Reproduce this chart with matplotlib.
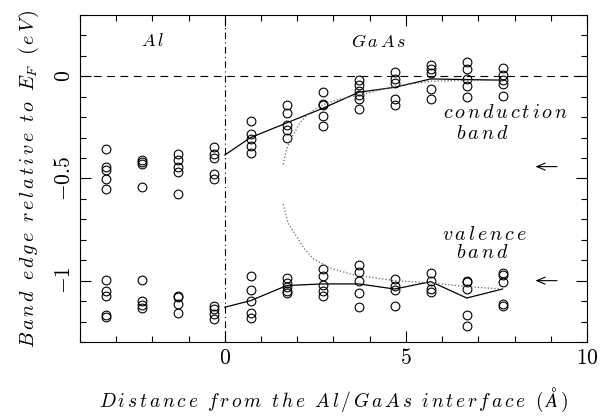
import matplotlib
matplotlib.use("Agg")
import matplotlib.pyplot as plt
from matplotlib.ticker import MultipleLocator
import numpy as np

plt.rcParams['mathtext.fontset'] = 'cm'
plt.rcParams['font.family'] = ['DejaVu Serif']

# layer positions (Angstrom)
layer_x = [-3.27, -2.28, -1.29, -0.30, 0.71, 1.71, 2.70, 3.70, 4.69, 5.69, 6.68, 7.67]

# conduction band edge of each atom in a layer
cond_pts = [
    [-0.355, -0.442, -0.459, -0.501, -0.554],
    [-0.410, -0.421, -0.431, -0.540],
    [-0.382, -0.411, -0.442, -0.467, -0.577],
    [-0.345, -0.379, -0.398, -0.480, -0.501],
    [-0.218, -0.281, -0.309, -0.341, -0.377],
    [-0.141, -0.182, -0.236, -0.263, -0.304],
    [-0.075, -0.135, -0.140, -0.192, -0.244],
    [-0.018, -0.044, -0.073, -0.090, -0.109, -0.159],
    [0.021, -0.013, -0.033, -0.109, -0.141],
    [0.054, 0.036, 0.018, -0.062, -0.111],
    [0.068, 0.038, -0.011, -0.049, -0.102],
    [0.039, 0.008, -0.016, -0.039, -0.096],
]

# valence band edge of each atom in a layer
val_pts = [
    [-0.997, -1.050, -1.073, -1.166, -1.180],
    [-0.997, -1.102, -1.117, -1.133],
    [-1.073, -1.081, -1.112, -1.159],
    [-1.123, -1.138, -1.163, -1.187],
    [-0.979, -1.044, -1.098, -1.156, -1.182],
    [-0.985, -1.011, -1.029, -1.049, -1.062],
    [-0.945, -0.976, -1.020, -1.052, -1.076],
    [-0.924, -0.959, -1.000, -1.062, -1.127],
    [-0.992, -1.028, -1.044, -1.122],
    [-0.961, -1.003, -1.041, -1.057],
    [-1.000, -1.008, -1.041, -1.168, -1.220],
    [-0.962, -0.972, -1.008, -1.114, -1.125],
]

# layer averaged band edges (solid)
avg_x = [0.0, 0.71, 1.71, 2.70, 3.70, 4.69, 5.69, 6.68, 7.67]
cond_avg = [-0.385, -0.300, -0.228, -0.157, -0.078, -0.054, -0.013, -0.016, -0.019]
val_avg = [-1.130, -1.098, -1.024, -1.016, -1.016, -1.041, -1.005, -1.085, -1.041]

# model curves (dotted)
cond_fit_x = [1.61, 1.66, 1.72, 1.80, 1.90, 2.05, 2.27, 2.50, 2.73, 3.10, 3.46, 3.70, 4.69, 5.69, 6.68, 7.66]
cond_fit = [-0.431, -0.390, -0.350, -0.315, -0.285, -0.235, -0.187, -0.160, -0.138, -0.115, -0.100, -0.093, -0.049, -0.024, -0.020, -0.020]
val_fit_x = [1.61, 1.75, 2.00, 2.20, 2.45, 2.91, 3.46, 3.71, 4.70, 5.69, 6.68, 7.66]
val_fit = [-0.626, -0.720, -0.789, -0.845, -0.894, -0.938, -0.967, -0.976, -1.000, -1.011, -1.029, -1.041]


def sp(word):
    # the original is typeset with loose letter spacing
    return r'\,'.join(word)


def mt(*words):
    return '$' + r'\ \;'.join(words) + '$'


fig = plt.figure(figsize=(6.13, 4.16), dpi=100)
ax = fig.add_axes([0.1305, 0.178, 0.827, 0.786])

for x, ys in zip(layer_x, cond_pts):
    ax.plot([x] * len(ys), ys, 'o', ms=6.3, mfc='none', mec='black', mew=0.8)
for x, ys in zip(layer_x, val_pts):
    ax.plot([x] * len(ys), ys, 'o', ms=6.3, mfc='none', mec='black', mew=0.8)

ax.plot(avg_x, cond_avg, '-', color='black', lw=0.9)
ax.plot(avg_x, val_avg, '-', color='black', lw=0.9)
ax.plot(cond_fit_x, cond_fit, ':', color='#666666', lw=0.9)
ax.plot(val_fit_x, val_fit, ':', color='#666666', lw=0.9)

# Fermi level and interface
ax.axhline(0, color='black', lw=0.8, ls=(0, (7, 5)))
ax.axvline(0, color='black', lw=0.8, ls=(0, (6, 3, 1, 3)))

# bulk band edge arrows
for yv in [-0.442, -1.0]:
    ax.annotate('', xy=(8.50, yv), xytext=(9.25, yv),
                arrowprops=dict(arrowstyle='->,head_length=0.6,head_width=0.25', lw=0.8, color='black'))

fs = 13
fb = 14.5
ax.text(-2.0, 0.146, mt(sp('Al')), fontsize=fs, ha='center', va='baseline')
ax.text(4.24, 0.141, mt(sp('GaAs')), fontsize=fs, ha='center', va='baseline')
ax.text(7.75, -0.203, mt(sp('conduction')), fontsize=fb, ha='center', va='baseline')
ax.text(7.10, -0.306, mt(sp('band')), fontsize=fb, ha='center', va='baseline')
ax.text(7.17, -0.801, mt(sp('valence')), fontsize=fb, ha='center', va='baseline')
ax.text(7.12, -0.889, mt(sp('band')), fontsize=fb, ha='center', va='baseline')

ax.set_xlim(-4, 10)
ax.set_ylim(-1.3, 0.3)
ax.xaxis.set_major_locator(MultipleLocator(5))
ax.xaxis.set_minor_locator(MultipleLocator(1))
ax.yaxis.set_major_locator(MultipleLocator(0.5))
ax.yaxis.set_minor_locator(MultipleLocator(0.1))
ax.set_xticks([0, 5, 10])
ax.set_xticklabels([r'$0$', r'$5$', r'$10$'])
ax.set_yticks([-1, -0.5, 0])
ax.set_yticklabels([r'$-1$', r'$-0.5$', r'$0$'], rotation=90, va='center')
ax.tick_params(which='both', direction='in', top=True, right=True, labelsize=15.5, width=0.8)
ax.tick_params(which='major', length=8)
ax.tick_params(which='minor', length=4)
for s in ax.spines.values():
    s.set_linewidth(0.8)

xlab = mt(sp('Distance'), sp('from'), sp('the'), sp('Al/GaAs'), sp('interface'), r'(\,\AA\,)')
ylab = mt(sp('Band'), sp('edge'), sp('relative'), sp('to'), 'E_F', sp('(eV)'))
ax.set_xlabel(xlab, fontsize=14, labelpad=12)
ax.set_ylabel(ylab, fontsize=14.5, labelpad=9)

fig.savefig('out.png', dpi=100)
